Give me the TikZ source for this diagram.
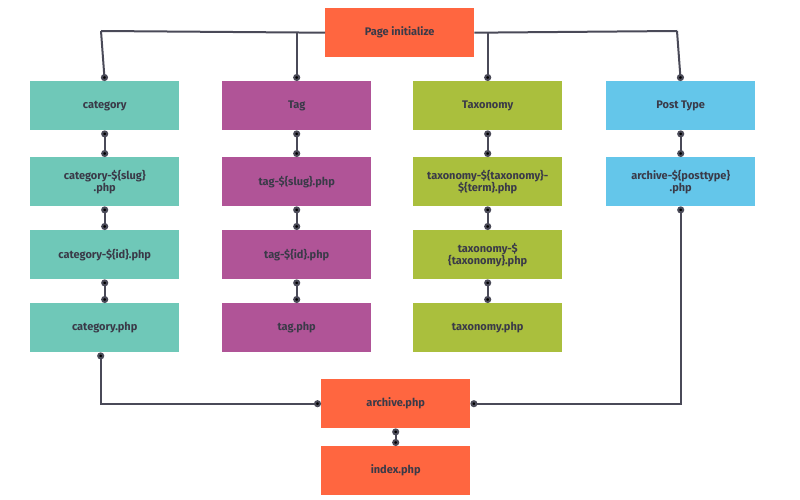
\documentclass[tikz,border=0pt]{standalone}
\usepackage{fontspec}
\setmainfont{Fira Sans}
\usetikzlibrary{arrows.meta}
\definecolor{org}{HTML}{FF6640}
\definecolor{tea}{HTML}{6FC8B8}
\definecolor{pur}{HTML}{B05497}
\definecolor{oli}{HTML}{AABF3D}
\definecolor{blu}{HTML}{64C6EA}
\definecolor{ln}{HTML}{4A4A58}
\definecolor{tx}{HTML}{3A3A48}
\begin{document}
\begin{tikzpicture}[x=1pt,y=-1pt,
 bx/.style={minimum width=149pt,minimum height=49pt,inner sep=1pt,align=center,font=\bfseries\fontsize{11}{12}\selectfont,text=tx,anchor=north west},
 cn/.style={draw=ln,line width=2pt,{Circle[length=7pt,fill=black]}-{Circle[length=7pt,fill=black]}},
 cs/.style={draw=ln,line width=2pt,-{Circle[length=7pt,fill=black]}}]
\useasboundingbox (0,0) rectangle (800,500);
\node[bx,fill=org] (pi) at (325,8) {Page initialize};
\node[bx,fill=tea] (c1) at (30,81) {category};
\node[bx,fill=tea] (c2) at (30,157) {category-\$\{slug\}\\.php};
\node[bx,fill=tea] (c3) at (30,230) {category-\$\{id\}.php};
\node[bx,fill=tea] (c4) at (30,303) {category.php};
\node[bx,fill=pur] (t1) at (222,81) {Tag};
\node[bx,fill=pur] (t2) at (222,157) {tag-\$\{slug\}.php};
\node[bx,fill=pur] (t3) at (222,230) {tag-\$\{id\}.php};
\node[bx,fill=pur] (t4) at (222,303) {tag.php};
\node[bx,fill=oli] (x1) at (413,81) {Taxonomy};
\node[bx,fill=oli] (x2) at (413,157) {taxonomy-\$\{taxonomy\}-\\\$\{term\}.php};
\node[bx,fill=oli] (x3) at (413,230) {taxonomy-\$\\\{taxonomy\}.php};
\node[bx,fill=oli] (x4) at (413,303) {taxonomy.php};
\node[bx,fill=blu] (p1) at (606,81) {Post Type};
\node[bx,fill=blu] (p2) at (606,157) {archive-\$\{posttype\}\\.php};
\node[bx,fill=org] (ar) at (321,379) {archive.php};
\node[bx,fill=org] (ix) at (321,446) {index.php};
\coordinate (L) at (101,31); \coordinate (R) at (677,31);
\draw[ln,line width=2pt] (pi.west) -- (L); \draw[ln,line width=2pt] (pi.east) -- (R);
\draw[cs] (L) -- (c1.north);
\draw[cs] (pi.west -| t1.north) -- (t1.north);
\draw[cs] (pi.east -| x1.north) -- (x1.north);
\draw[cs] (R) -- (p1.north);
\foreach \a/\b in {c1/c2,c2/c3,c3/c4,t1/t2,t2/t3,t3/t4,x1/x2,x2/x3,x3/x4,p1/p2,ar/ix}
 \draw[cn] (\a.south) -- (\b.north);
\draw[cn] (c4.south) ++(-4,0) coordinate (c4s) (c4s) |- (ar.west);
\draw[cn] (p2.south) |- (ar.east);
\end{tikzpicture}
\end{document}
